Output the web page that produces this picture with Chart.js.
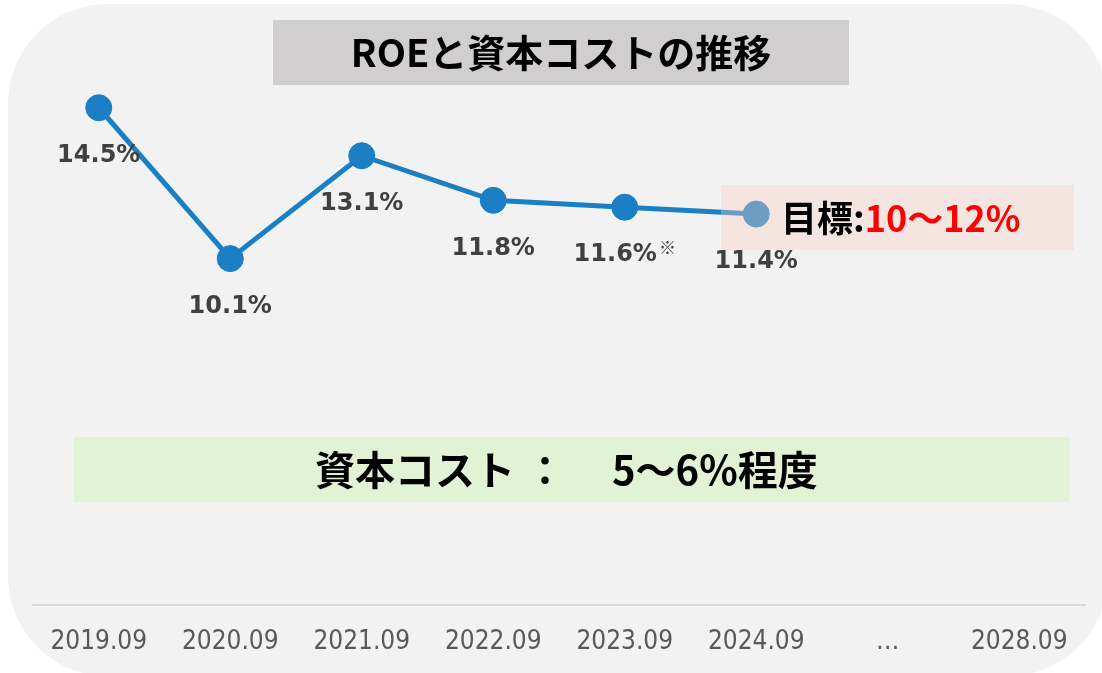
<!DOCTYPE html>
<html lang="ja">
<head>
  <meta charset="UTF-8">
  <title>ROEと資本コストの推移</title>
  <script src="https://cdn.jsdelivr.net/npm/chart.js"></script>
  <style>
    body {
      margin: 0;
      background: #ffffff;
    }
    .chart-box {
      width: 1102px;
      height: 673px;
      position: relative;
    }
  </style>
</head>
<body>
  <div class="chart-box">
    <canvas id="roeChart"></canvas>
  </div>

  <script>
    const periods = ['2019.09', '2020.09', '2021.09', '2022.09', '2023.09', '2024.09', '…', '2028.09'];
    const roeValues = [14.5, 10.1, 13.1, 11.8, 11.6, 11.4, null, null];
    const roeLabels = ['14.5%', '10.1%', '13.1%', '11.8%', '11.6%', '11.4%', '', ''];
    const roeNotes = ['', '', '', '', '※', '', '', ''];

    const titleText = 'ROEと資本コストの推移';
    const targetPrefix = '目標:';
    const targetRange = '10〜12%';
    const costPrefix = '資本コスト';
    const costColon = '：';
    const costRange = '5〜6%程度';

    const cjk = '"Noto Sans CJK JP", "Noto Sans", sans-serif';
    const blue = '#1a7fc4';

    // rounded grey panel behind everything + title / cost boxes
    const backdrop = {
      id: 'backdrop',
      beforeDraw(chart) {
        const ctx = chart.ctx;
        ctx.save();
        ctx.fillStyle = '#f2f2f2';
        ctx.beginPath();
        ctx.roundRect(8, 4, 1100, 672, 100);
        ctx.fill();

        ctx.fillStyle = '#d0cece';
        ctx.fillRect(273, 20, 576, 65);
        ctx.fillStyle = '#000000';
        ctx.font = 'bold 38px ' + cjk;
        ctx.textAlign = 'center';
        ctx.textBaseline = 'middle';
        ctx.fillText(titleText, 561, 53);

        ctx.fillStyle = '#e2f3d5';
        ctx.fillRect(74, 437, 995, 65);
        ctx.fillStyle = '#000000';
        ctx.font = 'bold 40px ' + cjk;
        ctx.textAlign = 'left';
        ctx.fillText(costPrefix, 315, 470);
        ctx.textAlign = 'center';
        ctx.fillText(costColon, 545, 470);
        ctx.textAlign = 'left';
        ctx.fillText(costRange, 612, 470);
        ctx.restore();
      }
    };

    // target box sits on top of the line, then the value labels
    const overlay = {
      id: 'overlay',
      afterDatasetsDraw(chart) {
        const ctx = chart.ctx;
        ctx.save();
        ctx.fillStyle = 'rgba(248, 208, 195, 0.38)';
        ctx.fillRect(721, 185, 353, 65);

        ctx.font = 'bold 36px ' + cjk;
        ctx.textAlign = 'left';
        ctx.textBaseline = 'middle';
        ctx.fillStyle = '#000000';
        ctx.fillText(targetPrefix, 781, 218);
        const w = ctx.measureText(targetPrefix).width;
        ctx.fillStyle = '#ff0000';
        ctx.fillText(targetRange, 781 + w, 218);

        const meta = chart.getDatasetMeta(0);
        meta.data.forEach((pt, i) => {
          if (!roeLabels[i]) return;
          ctx.font = 'bold 24px "DejaVu Sans", Verdana, sans-serif';
          ctx.fillStyle = '#404040';
          const mainW = ctx.measureText(roeLabels[i]).width;
          let noteW = 0;
          if (roeNotes[i]) {
            ctx.font = '17px ' + cjk;
            noteW = ctx.measureText(roeNotes[i]).width + 2;
          }
          const left = pt.x - (mainW + noteW) / 2;
          const y = pt.y + 48;
          ctx.font = 'bold 24px "DejaVu Sans", Verdana, sans-serif';
          ctx.textAlign = 'left';
          ctx.fillText(roeLabels[i], left, y);
          if (roeNotes[i]) {
            ctx.font = '17px ' + cjk;
            ctx.fillText(roeNotes[i], left + mainW + 2, y - 8);
          }
        });
        ctx.restore();
      }
    };

    new Chart(document.getElementById('roeChart'), {
      type: 'line',
      data: {
        labels: periods,
        datasets: [{
          data: roeValues,
          borderColor: blue,
          backgroundColor: blue,
          borderWidth: 5,
          pointRadius: 13,
          pointHoverRadius: 13,
          pointBackgroundColor: blue,
          pointBorderColor: blue,
          pointBorderWidth: 1,
          fill: false,
          tension: 0
        }]
      },
      options: {
        responsive: true,
        maintainAspectRatio: false,
        animation: false,
        layout: { padding: { left: 33, right: 17, top: 22, bottom: 0 } },
        plugins: {
          legend: { display: false },
          tooltip: { enabled: false }
        },
        scales: {
          x: {
            offset: true,
            grid: { display: false, drawTicks: false },
            border: { display: true, color: '#d9d9d9', width: 2 },
            afterFit(axis) { axis.height = 68; },
            ticks: {
              color: '#595959',
              padding: 22,
              maxRotation: 0,
              autoSkip: false,
              font: { family: '"DejaVu Sans Condensed", "Liberation Sans", sans-serif', size: 26 }
            }
          },
          y: {
            display: false,
            min: 0,
            max: 17
          }
        }
      },
      plugins: [backdrop, overlay]
    });
  </script>
</body>
</html>
